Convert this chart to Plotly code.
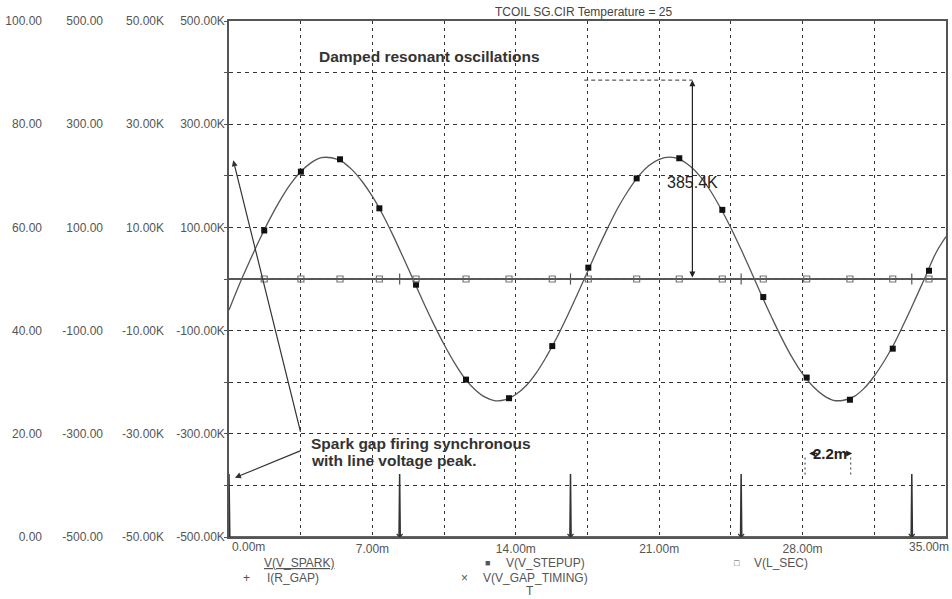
import plotly.graph_objects as go

# ---------------- data ----------------
t_ms = [0.0, 0.5, 1.0, 1.5, 2.0, 2.5, 3.0, 3.5, 4.0, 4.5, 5.0, 5.5, 6.0, 6.5, 7.0, 7.5,
        8.0, 8.5, 9.0, 9.5, 10.0, 10.5, 11.0, 11.5, 12.0, 12.5, 13.0, 13.5, 14.0, 14.5,
        15.0, 15.5, 16.0, 16.5, 17.0, 17.5, 18.0, 18.5, 19.0, 19.5, 20.0, 20.5, 21.0,
        21.5, 22.0, 22.5, 23.0, 23.5, 24.0, 24.5, 25.0, 25.5, 26.0, 26.5, 27.0, 27.5,
        28.0, 28.5, 29.0, 29.5, 30.0, 30.5, 31.0, 31.5, 32.0, 32.5, 33.0, 33.5, 34.0,
        34.5, 35.0]
v_stepup_k = [-60, -11, 34, 77, 117, 153, 184, 208, 225, 235, 235, 228, 212, 189, 160, 125,
              85, 42, -2, -46, -88, -127, -162, -192, -214, -229, -236, -234, -224, -207,
              -182, -150, -114, -73, -30, 14, 58, 100, 139, 172, 200, 220, 232, 236, 232,
              219, 199, 171, 137, 99, 57, 13, -32, -75, -116, -153, -184, -208, -225, -235,
              -235, -228, -212, -188, -158, -123, -82, -39, 5, 50, 82]

marker_t = [1.72, 3.51, 5.42, 7.34, 9.13, 11.57, 13.67, 15.78, 17.54, 19.90, 21.98,
            24.08, 26.08, 28.20, 30.31, 32.40, 34.17]
marker_stepup_k = [94, 208, 232, 137, -11, -195, -231, -130, 22, 195, 234, 134, -35,
                   -191, -234, -135, 16]
marker_lsec_k = [0, 0, 0, 0, 0, 0, 0, 0, 0, 0, 0, 0, 0, 0, 0, 0, 0]

span_t = [0.0, 35.0]
v_spark = [0, 0]
v_lsec_line = [0, 0]
i_gap_line = [0, 0]

gap_fire_t = [8.33, 16.67, 25.0, 33.33]
gap_fire_zero = [0, 0, 0, 0]

gap_timing_t = [0.0, 0.0, 0.04, 8.30, 8.33, 8.36, 16.64, 16.67, 16.70, 24.97, 25.0,
                25.03, 33.30, 33.33, 33.36, 35.0]
gap_timing_v = [0, 12.2, 0, 0, 12.2, 0, 0, 12.2, 0, 0, 12.2, 0, 0, 12.2, 0, 0]

# axis ticks
x_tick_vals = [0, 3.5, 7, 10.5, 14, 17.5, 21, 24.5, 28, 31.5, 35]
x_tick_text = ["", "", "7.00m", "", "14.00m", "", "21.00m", "", "28.00m", "", ""]
y_main_vals = [-500, -400, -300, -200, -100, 0, 100, 200, 300, 400, 500]
y_main_text = ["-500.00K", "", "-300.00K", "", "-100.00K", "", "100.00K", "", "300.00K", "", "500.00K"]
y3_vals = [-50, -30, -10, 10, 30, 50]
y3_text = ["-50.00K", "-30.00K", "-10.00K", "10.00K", "30.00K", "50.00K"]
y2_vals = [-500, -300, -100, 100, 300, 500]
y2_text = ["-500.00", "-300.00", "-100.00", "100.00", "300.00", "500.00"]
y1_vals = [0, 20, 40, 60, 80, 100]
y1_text = ["0.00", "20.00", "40.00", "60.00", "80.00", "100.00"]

measured_peak_k = 385.4

# ---------------- figure ----------------
W, H = 952, 599
ML, MT, MB = 0, 21, 62
PLOT_L, PLOT_R = 229, 946
FONT = "Arial, Liberation Sans, sans-serif"
LBL = "#555555"
INK = "#333333"

fig = go.Figure()

# zero-level traces
fig.add_trace(go.Scatter(x=span_t, y=v_spark, mode="lines",
                         line=dict(color="#444444", width=1.3), yaxis="y"))
fig.add_trace(go.Scatter(x=span_t, y=i_gap_line, mode="lines",
                         line=dict(color="#555555", width=1.3), yaxis="y3"))
fig.add_trace(go.Scatter(x=span_t, y=v_lsec_line, mode="lines",
                         line=dict(color="#666666", width=1), yaxis="y2"))
fig.add_trace(go.Scatter(x=marker_t, y=marker_lsec_k, mode="markers", yaxis="y2",
                         marker=dict(symbol="square-open", size=6, color="#777777",
                                     line=dict(width=1.2))))
fig.add_trace(go.Scatter(x=gap_fire_t, y=gap_fire_zero, mode="markers", yaxis="y3",
                         marker=dict(symbol="line-ns", size=8, color="#555555",
                                     line=dict(width=1.2, color="#555555"))))

# gap timing pulses
fig.add_trace(go.Scatter(x=gap_timing_t, y=gap_timing_v, mode="lines", yaxis="y4",
                         line=dict(color="#333333", width=1.5)))
fig.add_trace(go.Scatter(x=gap_fire_t, y=gap_fire_zero, mode="markers", yaxis="y4",
                         cliponaxis=True,
                         marker=dict(symbol="x-thin", size=6, color="#333333",
                                     line=dict(width=1.2, color="#333333"))))

# step-up voltage
fig.add_trace(go.Scatter(x=t_ms, y=v_stepup_k, mode="lines", yaxis="y",
                         line=dict(color="#555555", width=1.3, shape="spline")))
fig.add_trace(go.Scatter(x=marker_t, y=marker_stepup_k, mode="markers", yaxis="y",
                         marker=dict(symbol="square", size=6, color="#111111")))

def px_x(px):
    return px / W

def px_y(py):
    return (H - MB - py) / (H - MB - MT)

common_free = dict(overlaying="y", anchor="free", side="left", showgrid=False,
                   zeroline=False, showline=False, ticks="",
                   tickfont=dict(size=12, color=LBL, family=FONT))

fig.update_layout(
    width=W, height=H, margin=dict(l=ML, r=0, t=MT, b=MB, autoexpand=False),
    paper_bgcolor="white", plot_bgcolor="white", showlegend=False,
    font=dict(family=FONT, color=LBL),
    xaxis=dict(domain=[px_x(PLOT_L), px_x(PLOT_R)], range=[0, 35],
               tickmode="array", tickvals=x_tick_vals, ticktext=x_tick_text,
               showgrid=True, gridcolor="#333333", gridwidth=1, griddash="3px,4px",
               showline=True, mirror=True, linecolor="#555555", linewidth=1.5,
               zeroline=False, ticks="", tickfont=dict(size=12, color=LBL, family=FONT)),
    yaxis=dict(range=[-500, 500], tickmode="array", tickvals=y_main_vals,
               ticktext=y_main_text, showgrid=True, gridcolor="#333333", gridwidth=1,
               griddash="4px,4px", showline=True, mirror=True, linecolor="#555555",
               linewidth=1.5, zeroline=False, ticks="outside", ticklen=3,
               ticklabelstandoff=-3,
               tickcolor="#555555", tickfont=dict(size=12, color=LBL, family=FONT)),
    yaxis2=dict(range=[-50, 50], tickmode="array", tickvals=y3_vals, ticktext=y3_text,
                position=px_x(164), **common_free),
    yaxis3=dict(range=[-500, 500], tickmode="array", tickvals=y2_vals, ticktext=y2_text,
                position=px_x(103), **common_free),
    yaxis4=dict(range=[0, 100], tickmode="array", tickvals=y1_vals, ticktext=y1_text,
                position=px_x(42), **common_free),
)

ann = []
# in-plot texts
ann.append(dict(x=4.30, y=431, xref="x", yref="y", text="<b>Damped resonant oscillations</b>",
                showarrow=False, xanchor="left", yanchor="middle",
                font=dict(size=15.5, color=INK, family=FONT)))
ann.append(dict(x=21.28, y=187, xref="x", yref="y", text=f"{measured_peak_k}K",
                showarrow=False, xanchor="left", yanchor="middle",
                font=dict(size=16, color="#222222", family=FONT)))
ann.append(dict(x=22.62, y=measured_peak_k, ax=22.62, ay=0, xref="x", yref="y",
                axref="x", ayref="y", text="", showarrow=True, arrowhead=2,
                arrowside="end+start", arrowsize=1, arrowwidth=1.2, arrowcolor="#222222"))
ann.append(dict(x=3.90, y=-318, xref="x", yref="y", text="<b>Spark gap firing synchronous</b>",
                showarrow=False, xanchor="left", yanchor="middle",
                font=dict(size=15.5, color=INK, family=FONT)))
ann.append(dict(x=3.90, y=-352, xref="x", yref="y", text="<b>with line voltage peak.</b>",
                showarrow=False, xanchor="left", yanchor="middle",
                font=dict(size=15.5, color=INK, family=FONT)))
ann.append(dict(x=0.21, y=230, ax=3.51, ay=-299, xref="x", yref="y", axref="x", ayref="y",
                text="", showarrow=True, arrowhead=2, arrowsize=1, arrowwidth=1.2,
                arrowcolor="#333333"))
ann.append(dict(x=0.29, y=-385, ax=3.55, ay=-332, xref="x", yref="y", axref="x", ayref="y",
                text="", showarrow=True, arrowhead=2, arrowsize=1, arrowwidth=1.2,
                arrowcolor="#333333"))
# 2.2m dimension: two short arrows hidden under the label
ann.append(dict(x=28.32, y=-338, ax=28.80, ay=-338, xref="x", yref="y", axref="x", ayref="y",
                text="", showarrow=True, arrowhead=2, arrowsize=1,
                arrowwidth=1.2, arrowcolor="#222222"))
ann.append(dict(x=30.42, y=-338, ax=29.95, ay=-338, xref="x", yref="y", axref="x", ayref="y",
                text="", showarrow=True, arrowhead=2, arrowsize=1,
                arrowwidth=1.2, arrowcolor="#222222"))
ann.append(dict(x=29.36, y=-338, xref="x", yref="y", text="<b>2.2m</b>", showarrow=False,
                xanchor="center", yanchor="middle",
                font=dict(size=15, color="#222222", family=FONT)))

# title
ann.append(dict(x=px_x(493), y=px_y(12), xref="paper", yref="paper",
                text="TCOIL SG.CIR Temperature = 25", showarrow=False, xanchor="left",
                yanchor="middle", font=dict(size=12, color="#444444", family=FONT)))
# x end labels
ann.append(dict(x=px_x(230), y=px_y(547), xref="paper", yref="paper", text="0.00m",
                showarrow=False, xanchor="left", yanchor="middle",
                font=dict(size=12, color=LBL, family=FONT)))
ann.append(dict(x=px_x(951), y=px_y(547), xref="paper", yref="paper", text="35.00m",
                showarrow=False, xanchor="right", yanchor="middle",
                font=dict(size=12, color=LBL, family=FONT)))

# legend
legend_items = [
    (262, 563, "<u>V(V_SPARK)</u>", "left"),
    (488, 563, "■", "center"),
    (504, 563, "V(V_STEPUP)", "left"),
    (737, 563, "□", "center"),
    (752, 563, "V(L_SEC)", "left"),
    (246, 578, "+", "center"),
    (265, 578, "I(R_GAP)", "left"),
    (464, 578, "×", "center"),
    (481, 578, "V(V_GAP_TIMING)", "left"),
    (530, 591, "T", "center"),
]
for lx, ly, txt, anc in legend_items:
    size = 9 if txt in ("■", "□") else 12
    ann.append(dict(x=px_x(lx), y=px_y(ly), xref="paper", yref="paper", text=txt,
                    showarrow=False, xanchor=anc, yanchor="middle",
                    font=dict(size=size, color=LBL, family=FONT)))

fig.update_layout(annotations=ann)

# dimension helper lines
fig.add_shape(type="line", x0=17.34, x1=22.62, y0=measured_peak_k, y1=measured_peak_k,
              xref="x", yref="y", line=dict(color="#333333", width=1, dash="4px,3px"))
for tx in (28.12, 30.35):
    fig.add_shape(type="line", x0=tx, x1=tx, y0=-346, y1=-381, xref="x", yref="y",
                  line=dict(color="#333333", width=1, dash="2px,3px"))

fig.write_html("out.html", config={"displayModeBar": False},
               post_script="document.body.style.margin='0';document.body.style.overflow='hidden';")
